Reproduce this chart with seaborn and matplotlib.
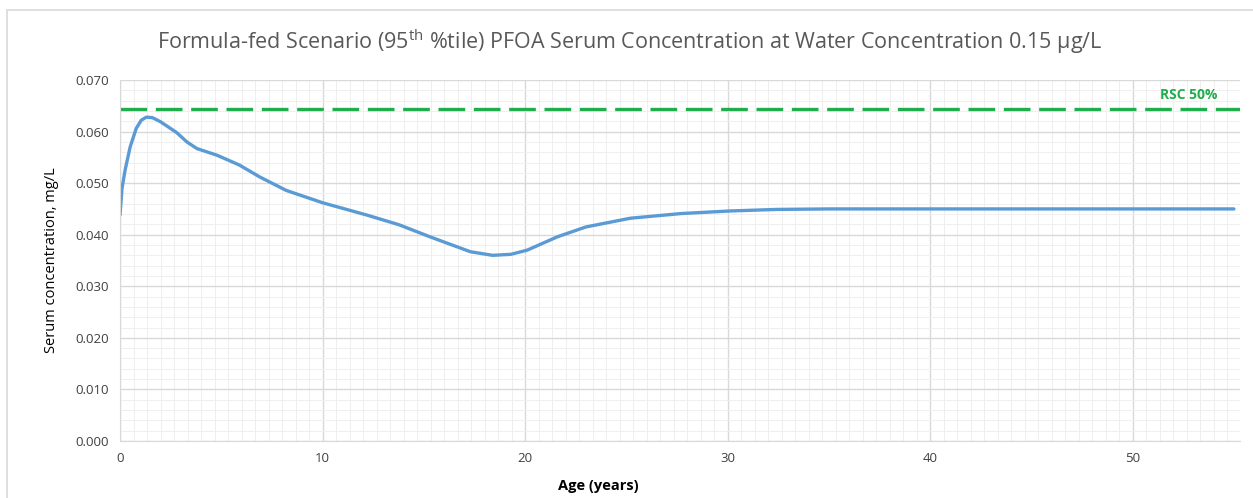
import numpy as np
import pandas as pd
import matplotlib
matplotlib.use("Agg")
import matplotlib.pyplot as plt
from matplotlib.ticker import MultipleLocator, FormatStrFormatter
from matplotlib.patches import Rectangle
import seaborn as sns

# values
age_years = [0.0, 0.1, 0.25, 0.5, 0.8, 1.05, 1.3, 1.6, 2.0, 2.8, 3.3, 3.8, 4.8,
             5.9, 6.9, 8.2, 10.0, 12.2, 13.8, 15.3, 17.3, 18.4, 19.3, 20.1,
             21.6, 23.0, 25.2, 27.7, 30.1, 32.4, 35.0, 40.0, 45.0, 50.0, 55.0]
serum_mg_l = [0.0438, 0.0490, 0.0525, 0.0570, 0.0606, 0.0622, 0.0628, 0.0627,
              0.0619, 0.0598, 0.0580, 0.0567, 0.0554, 0.0535, 0.0512, 0.0486,
              0.0462, 0.0438, 0.0419, 0.0396, 0.0367, 0.0360, 0.0362, 0.0370,
              0.0396, 0.0415, 0.0432, 0.0441, 0.0446, 0.0449, 0.0450, 0.0450,
              0.0450, 0.0450, 0.0450]
rsc_level = 0.0643
rsc_label = "RSC 50%"

title = "Formula-fed Scenario (95$^{\\mathregular{th}}$ %tile) PFOA Serum Concentration at Water Concentration 0.15 \u00b5g/L"

sns.set_style("white")
plt.rcParams["font.family"] = ["Open Sans", "DejaVu Sans"]
plt.rcParams["mathtext.fontset"] = "custom"
plt.rcParams["mathtext.rm"] = "Open Sans"

df = pd.DataFrame({"age": age_years, "serum": serum_mg_l})

fig = plt.figure(figsize=(12.53, 4.98), dpi=100)
ax = fig.add_axes([120 / 1253, 1 - 441 / 498, 1120 / 1253, 361 / 498])

# chart area border
fig.patches.append(Rectangle((7 / 1253, -0.1), 1.2, 1 - 10 / 498 + 0.1,
                             transform=fig.transFigure, fill=False,
                             edgecolor="#d9d9d9", linewidth=1.2))

sns.lineplot(data=df, x="age", y="serum", ax=ax, color="#5b9bd5", linewidth=2.4)
ax.axhline(rsc_level, color="#1fae4b", linewidth=2.4, dashes=(8, 2.6))
ax.text(54.2, rsc_level + 0.0015, rsc_label, color="#1fae4b", fontweight="bold",
        fontsize=10, ha="right", va="bottom")

ax.set_xlim(0, 55.3)
ax.set_ylim(0, 0.070)
ax.xaxis.set_major_locator(MultipleLocator(10))
ax.xaxis.set_minor_locator(MultipleLocator(10 / 15))
ax.yaxis.set_major_locator(MultipleLocator(0.010))
ax.yaxis.set_minor_locator(MultipleLocator(0.002))
ax.yaxis.set_major_formatter(FormatStrFormatter("%.3f"))

ax.grid(which="major", color="#d9d9d9", linewidth=1.0)
ax.grid(which="minor", color="#efefef", linewidth=0.7)
ax.set_axisbelow(True)
for s in ["top", "right"]:
    ax.spines[s].set_visible(False)
for s in ["left", "bottom"]:
    ax.spines[s].set_color("#d9d9d9")
ax.tick_params(which="both", length=0, labelsize=9.5, colors="#404040", pad=8)

ax.set_xlabel("Age (years)", fontsize=10.5, fontweight="bold", color="#000000",
              va="center")
ax.xaxis.set_label_coords((598 - 120) / 1120, (441 - 486) / 361)
ax.set_ylabel("Serum concentration, mg/L", fontsize=10.5, color="#000000", labelpad=12)

fig.text(630 / 1253, 1 - 42 / 498, title, fontsize=15.5, color="#595959",
         ha="center", va="center")

fig.savefig("out.png", dpi=100)
